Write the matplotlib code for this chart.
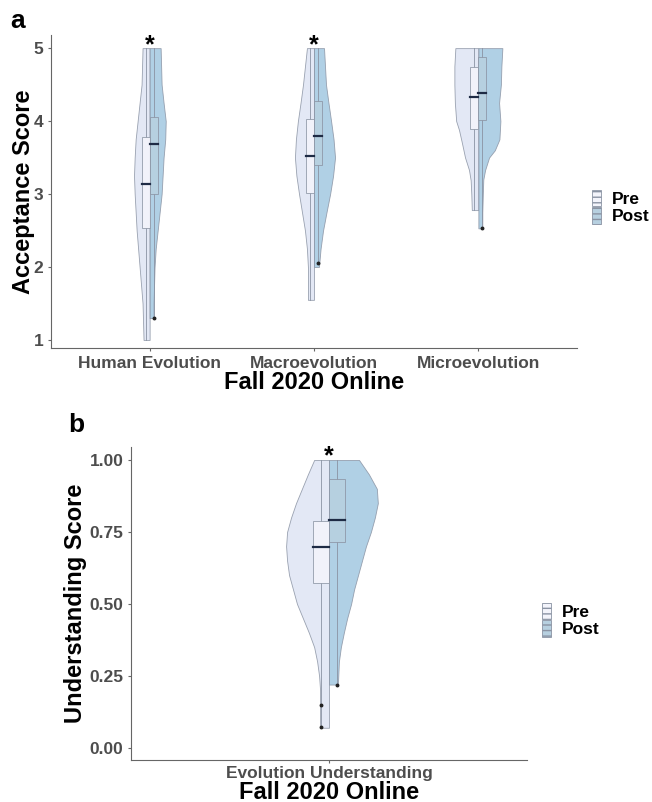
import matplotlib
matplotlib.use("Agg")
import matplotlib.pyplot as plt
import numpy as np
from matplotlib.patches import Rectangle, Patch

plt.rcParams['font.family'] = ['Liberation Sans', 'DejaVu Sans']
plt.rcParams['font.weight'] = 'bold'

# -------------------- panel a data --------------------
groups_a = ["Human Evolution", "Macroevolution", "Microevolution"]

# half-violin outlines: y levels and half widths (x units)
human_pre_y = [5.0, 4.75, 4.5, 4.25, 4.0, 3.75, 3.5, 3.25, 3.0, 2.75, 2.5, 2.25, 2.0, 1.75, 1.5, 1.25, 1.0]
human_pre_w = [0.043, 0.046, 0.049, 0.061, 0.073, 0.085, 0.091, 0.095, 0.091, 0.085, 0.079, 0.070, 0.061, 0.052, 0.043, 0.040, 0.037]
human_post_y = [5.0, 4.75, 4.5, 4.25, 4.0, 3.75, 3.5, 3.25, 3.0, 2.75, 2.5, 2.25, 2.0, 1.75, 1.5, 1.3]
human_post_w = [0.067, 0.070, 0.073, 0.085, 0.098, 0.095, 0.085, 0.079, 0.073, 0.061, 0.049, 0.037, 0.030, 0.027, 0.024, 0.024]

macro_pre_y = [5.0, 4.75, 4.5, 4.25, 4.0, 3.75, 3.5, 3.25, 3.0, 2.75, 2.5, 2.25, 2.0, 1.75, 1.55]
macro_pre_w = [0.043, 0.055, 0.067, 0.082, 0.098, 0.110, 0.116, 0.107, 0.091, 0.073, 0.055, 0.043, 0.037, 0.037, 0.037]
macro_post_y = [5.0, 4.75, 4.5, 4.25, 4.0, 3.75, 3.5, 3.25, 3.0, 2.75, 2.5, 2.25, 2.0]
macro_post_w = [0.061, 0.067, 0.073, 0.088, 0.104, 0.119, 0.128, 0.116, 0.098, 0.076, 0.055, 0.040, 0.030]

micro_pre_y = [5.0, 4.75, 4.5, 4.25, 4.0, 3.88, 3.7, 3.5, 3.33, 3.19, 3.0, 2.78]
micro_pre_w = [0.140, 0.146, 0.146, 0.143, 0.135, 0.118, 0.100, 0.081, 0.057, 0.047, 0.043, 0.040]
micro_post_y = [5.0, 4.75, 4.5, 4.25, 4.0, 3.75, 3.6, 3.5, 3.33, 3.2, 3.0, 2.75, 2.53]
micro_post_w = [0.146, 0.140, 0.137, 0.126, 0.134, 0.128, 0.100, 0.065, 0.041, 0.030, 0.027, 0.024, 0.024]

# box stats: (low whisker, q1, median, q3, high whisker)
box_pre_a = [(1.0, 2.53, 3.14, 3.78, 5.0), (1.55, 3.02, 3.52, 4.03, 5.0), (2.78, 3.89, 4.33, 4.74, 5.0)]
box_post_a = [(1.3, 3.0, 3.69, 4.05, 5.0), (2.05, 3.40, 3.79, 4.28, 5.0), (2.53, 4.01, 4.38, 4.88, 5.0)]
outliers_post_a = [[1.3], [2.05], [2.53]]
star_a = [True, True, False]

# -------------------- panel b data --------------------
groups_b = ["Evolution Understanding"]
und_pre_y = [1.0, 0.95, 0.9, 0.85, 0.8, 0.75, 0.7, 0.65, 0.6, 0.55, 0.5, 0.45, 0.4, 0.35, 0.3, 0.25, 0.2, 0.07]
und_pre_w = [0.045, 0.064, 0.082, 0.100, 0.115, 0.127, 0.130, 0.127, 0.121, 0.109, 0.097, 0.079, 0.061, 0.045, 0.036, 0.030, 0.027, 0.027]
und_post_y = [1.0, 0.95, 0.9, 0.85, 0.8, 0.75, 0.7, 0.65, 0.6, 0.55, 0.5, 0.45, 0.4, 0.35, 0.3, 0.22]
und_post_w = [0.091, 0.121, 0.145, 0.148, 0.139, 0.127, 0.112, 0.100, 0.088, 0.076, 0.067, 0.055, 0.045, 0.036, 0.030, 0.027]
box_pre_b = [(0.074, 0.574, 0.696, 0.788, 1.0)]
box_post_b = [(0.22, 0.716, 0.792, 0.933, 1.0)]
outliers_pre_b = [[0.15, 0.074]]
outliers_post_b = [[0.22]]

# -------------------- style --------------------
pre_col = "#dfe4f4"
post_col = "#a3c8e1"
pre_box = "#f3f4fb"
post_box = "#b7d0e0"
edge = "#8a93a3"
med_col = "#1e2b45"
tick_col = "#4d4d4d"
box_w = 0.048


def half_violin(ax, c, y, w, side, color):
    y = np.asarray(y)
    w = np.asarray(w)
    if side < 0:
        ax.fill_betweenx(y, c - w, c, facecolor=color, edgecolor=edge, lw=0.6, alpha=0.85, zorder=2)
    else:
        ax.fill_betweenx(y, c, c + w, facecolor=color, edgecolor=edge, lw=0.6, alpha=0.85, zorder=2)


def box(ax, c, stats, side, color, outl):
    lo, q1, med, q3, hi = stats
    x0 = c - box_w if side < 0 else c
    xm = x0 + box_w / 2
    ax.plot([xm, xm], [lo, q1], color=edge, lw=0.6, zorder=3)
    ax.plot([xm, xm], [q3, hi], color=edge, lw=0.6, zorder=3)
    ax.add_patch(Rectangle((x0, q1), box_w, q3 - q1, facecolor=color, edgecolor=edge,
                           lw=0.6, alpha=0.9, zorder=4))
    ax.plot([x0, x0 + box_w], [med, med], color=med_col, lw=1.6, zorder=5)
    for o in outl:
        ax.plot(xm, o, 'o', ms=1.8, color="#222222", zorder=6)


def style(ax, xlim, ylim, yticks, ylabels, cats, ylab, ypad, xpad):
    ax.set_xlim(*xlim)
    ax.set_ylim(*ylim)
    ax.set_xticks(range(1, len(cats) + 1))
    ax.set_xticklabels(cats, fontsize=12.5, color=tick_col, fontweight='bold')
    ax.set_yticks(yticks)
    ax.set_yticklabels(ylabels, fontsize=12.5, color=tick_col, fontweight='bold')
    for s in ['top', 'right']:
        ax.spines[s].set_visible(False)
    for s in ['left', 'bottom']:
        ax.spines[s].set_color("#666666")
        ax.spines[s].set_linewidth(0.8)
    ax.tick_params(length=2.5, color="#666666", pad=3)
    ax.tick_params(axis='x', pad=xpad)
    ax.set_xlabel("Fall 2020 Online", fontsize=17, fontweight='bold', labelpad=0)
    ax.set_ylabel(ylab, fontsize=17, fontweight='bold', labelpad=ypad)


def legend(fig, x, y):
    handles = [Patch(facecolor=pre_box, edgecolor=edge, hatch='---', lw=0.6),
               Patch(facecolor=post_box, edgecolor=edge, hatch='---', lw=0.6)]
    fig.legend(handles, ["Pre", "Post"], loc='center left', bbox_to_anchor=(x, y),
               frameon=False, handlelength=0.55, handleheight=1.1,
               handletextpad=0.6, labelspacing=0.0, borderpad=0,
               prop={'weight': 'bold', 'size': 12.5})


fig = plt.figure(figsize=(6.52, 8.02), dpi=100)

# panel a
ax1 = fig.add_axes([51 / 652, 1 - 348 / 802, 526 / 652, 313 / 802])
pre_a = [(human_pre_y, human_pre_w), (macro_pre_y, macro_pre_w), (micro_pre_y, micro_pre_w)]
post_a = [(human_post_y, human_post_w), (macro_post_y, macro_post_w), (micro_post_y, micro_post_w)]
for i in range(len(groups_a)):
    c = i + 1
    half_violin(ax1, c, pre_a[i][0], pre_a[i][1], -1, pre_col)
    half_violin(ax1, c, post_a[i][0], post_a[i][1], 1, post_col)
    box(ax1, c, box_pre_a[i], -1, pre_box, [])
    box(ax1, c, box_post_a[i], 1, post_box, outliers_post_a[i])
    if star_a[i]:
        ax1.text(c, 4.87, "*", ha='center', va='bottom', fontsize=18, fontweight='bold', zorder=7)
style(ax1, (0.4, 3.6), (0.89, 5.18), [1, 2, 3, 4, 5], ["1", "2", "3", "4", "5"],
      groups_a, "Acceptance Score", -1, 3)
legend(fig, 583 / 652, 1 - 207 / 802)
fig.text(10 / 652, 1 - 21 / 802, "a", fontsize=19, fontweight='bold', va='center')

# panel b
ax2 = fig.add_axes([131 / 652, 1 - 760 / 802, 396 / 652, 313 / 802])
half_violin(ax2, 1, und_pre_y, und_pre_w, -1, pre_col)
half_violin(ax2, 1, und_post_y, und_post_w, 1, post_col)
box(ax2, 1, box_pre_b[0], -1, pre_box, outliers_pre_b[0])
box(ax2, 1, box_post_b[0], 1, post_box, outliers_post_b[0])
ax2.text(1, 0.97, "*", ha='center', va='bottom', fontsize=18, fontweight='bold', zorder=7)
style(ax2, (0.4, 1.6), (-0.042, 1.045), [0, 0.25, 0.5, 0.75, 1.0],
      ["0.00", "0.25", "0.50", "0.75", "1.00"], groups_b, "Understanding Score", 2, 1.5)
legend(fig, 533 / 652, 1 - 620 / 802)
fig.text(68 / 652, 1 - 425 / 802, "b", fontsize=19, fontweight='bold', va='center')

fig.savefig("out.png", dpi=100)
